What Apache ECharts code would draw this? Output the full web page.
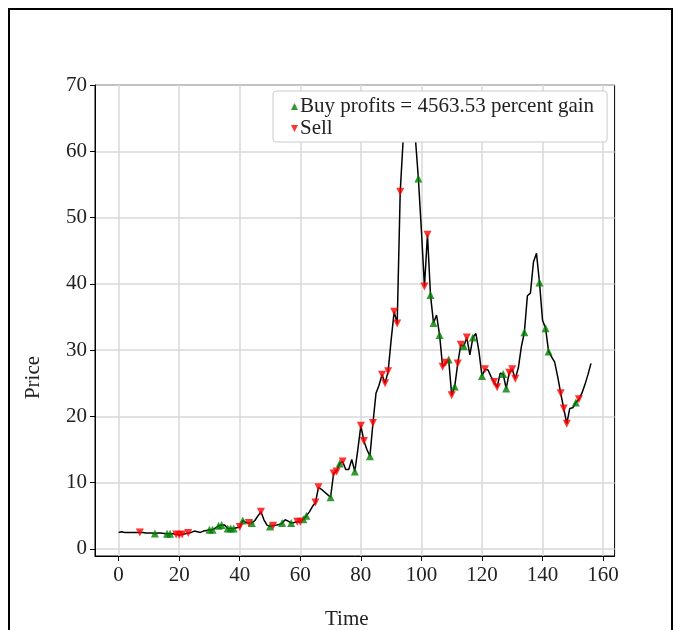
<!DOCTYPE html>
<html>
<head>
<meta charset="utf-8">
<script src="https://cdn.jsdelivr.net/npm/echarts@6/dist/echarts.min.js"></script>
<style>html,body{margin:0;padding:0;background:#fff;}#c{width:673px;height:630px;}</style>
</head>
<body>
<div id="c"></div>
<script>
// Price per time step (t = 0..156)
const price = [
  2.5, 2.6, 2.5, 2.5, 2.5, 2.5, 2.5, 2.5, 2.5, 2.4,
  2.4, 2.4, 2.35, 2.4, 2.4, 2.35, 2.3, 2.3, 2.3, 2.2,
  2.1, 2.2, 2.3, 2.4, 2.5, 2.7, 2.6, 2.5, 2.7, 2.8,
  2.9, 2.9, 3.2, 3.5, 3.6, 3.6, 3.1, 3.1, 3.1, 3.2,
  3.3, 4.3, 4.0, 3.9, 3.9, 4.3, 5.0, 5.6, 4.4, 3.6,
  3.4, 3.5, 3.6, 3.7, 3.9, 4.4, 4.2, 3.9, 4.0, 4.1,
  4.1, 4.5, 5.0, 5.6, 6.4, 7.0, 9.3, 9.0, 8.6, 8.2,
  7.8, 11.4, 11.7, 12.9, 13.2, 12.0, 12.0, 13.5, 11.7, 15.0,
  18.6, 16.3, 15.0, 14.0, 19.0, 23.5, 24.7, 26.3, 25.0, 26.8,
  31.5, 35.8, 34.0, 53.9, 62.0, 66.0, 67.5, 66.0, 62.0, 55.9,
  48.0, 39.6, 47.4, 38.3, 34.1, 35.3, 32.3, 27.5, 28.1, 28.6,
  23.2, 24.5, 28.0, 30.8, 30.6, 31.9, 29.3, 31.9, 32.5, 29.8,
  26.1, 27.1, 27.0, 26.0, 25.2, 24.4, 26.5, 26.4, 24.2, 26.6,
  27.1, 25.7, 27.3, 30.5, 32.7, 38.2, 38.6, 43.3, 44.6, 40.2,
  34.5, 33.3, 29.8, 29.0, 28.2, 26.0, 23.5, 21.2, 18.9, 21.2,
  21.3, 22.1, 22.6, 23.5, 24.8, 26.3, 28.0
];
// Time indices of buy and sell signals
const buyIdx = [12, 16, 17, 30, 31, 33, 34, 36, 37, 38, 41, 44, 50, 54, 57, 61, 62, 70, 73, 78, 83, 99, 103, 104, 106, 109, 111, 114, 117, 120, 127, 128, 134, 139, 141, 142, 151];
const sellIdx = [7, 19, 20, 21, 23, 40, 43, 47, 51, 59, 60, 65, 66, 71, 72, 74, 80, 81, 84, 87, 88, 89, 91, 92, 93, 101, 102, 107, 108, 110, 112, 113, 115, 121, 124, 125, 129, 130, 131, 146, 147, 148, 152];
const xTicks = [0, 20, 40, 60, 80, 100, 120, 140, 160];
const yTicks = [0, 10, 20, 30, 40, 50, 60, 70];
const buyName = 'Buy profits = 4563.53 percent gain';
const sellName = 'Sell';

const linePts = price.map((p, i) => [i, p]);
const buyPts = buyIdx.map(i => [i, price[i]]);
const sellPts = sellIdx.map(i => [i, price[i]]);

const FONT = 'Liberation Serif';
const downTri = 'path://M0,0L10,0L5,10Z';

const chart = echarts.init(document.getElementById('c'), null, {renderer: 'canvas'});
chart.setOption({
  animation: false,
  backgroundColor: '#fff',
  textStyle: {fontFamily: FONT},
  graphic: [{
    type: 'rect', silent: true, z: -10,
    shape: {x: 9, y: 9, width: 663, height: 700},
    style: {fill: 'none', stroke: '#000', lineWidth: 2}
  }],
  grid: {
    left: 95, right: 58.4, top: 85, bottom: 74,
    outerBoundsMode: 'none', containLabel: false,
    show: true, borderColor: '#000', borderWidth: 1, backgroundColor: 'transparent'
  },
  legend: {
    orient: 'vertical', left: 273, top: 91,
    padding: [5, 13, 3, 18],
    itemGap: 1, itemWidth: 7, itemHeight: 7,
    backgroundColor: '#fff', borderColor: '#cccccc', borderWidth: 1, borderRadius: 3,
    textStyle: {fontFamily: FONT, fontSize: 21, color: '#222', padding: [0, 0, 0, -3]},
    data: [{name: buyName, icon: 'triangle'}, {name: sellName, icon: downTri}]
  },
  xAxis: {
    type: 'value', min: -7.8, max: 163.8,
    name: 'Time', nameLocation: 'middle', nameGap: 53,
    nameTextStyle: {fontFamily: FONT, fontSize: 21, color: '#222', padding: [0, 16, 0, 0]},
    axisLine: {show: true, onZero: false, lineStyle: {color: '#000', width: 1}},
    axisTick: {show: true, length: 5, lineStyle: {color: '#000'}, customValues: xTicks},
    axisLabel: {fontFamily: FONT, fontSize: 21, color: '#222', margin: 9, customValues: xTicks},
    splitLine: {show: true, lineStyle: {color: '#d9d9d9', width: 1.5}}
  },
  yAxis: {
    type: 'value', min: -1.06, max: 70,
    name: 'Price', nameLocation: 'middle', nameGap: 51, nameRotate: 90,
    nameTextStyle: {fontFamily: FONT, fontSize: 21, color: '#222', padding: [0, 114, 0, 0]},
    axisLine: {show: true, onZero: false, lineStyle: {color: '#000', width: 1}},
    axisTick: {show: true, length: 5, lineStyle: {color: '#000'}, customValues: yTicks},
    axisLabel: {fontFamily: FONT, fontSize: 21, color: '#222', margin: 8, customValues: yTicks},
    splitLine: {show: true, lineStyle: {color: '#d9d9d9', width: 1.5}}
  },
  series: [
    {
      type: 'line', name: 'price', data: linePts, showSymbol: false, symbol: 'none',
      lineStyle: {color: '#000', width: 1.5}, clip: true, z: 2
    },
    {
      type: 'scatter', name: buyName, data: buyPts, symbol: 'triangle', symbolSize: 8,
      itemStyle: {color: '#008000'}, z: 3
    },
    {
      type: 'scatter', name: sellName, data: sellPts, symbol: downTri, symbolSize: 8,
      itemStyle: {color: '#ff0000'}, z: 3
    }
  ]
});
</script>
</body>
</html>
